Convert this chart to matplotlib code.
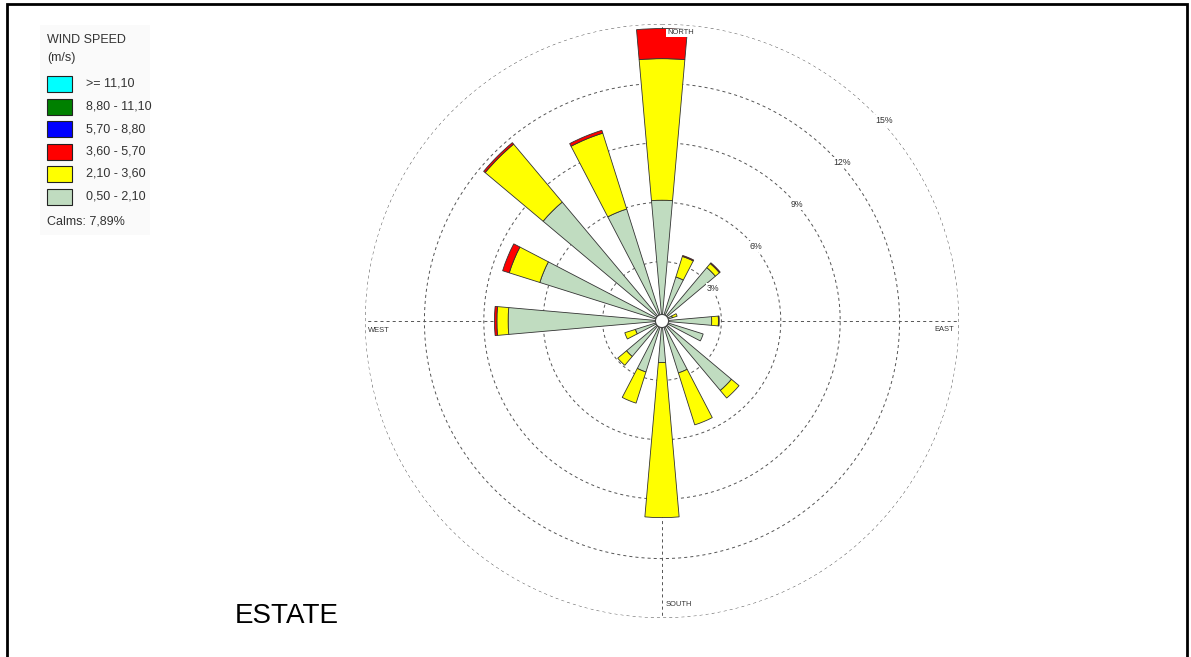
import numpy as np
import matplotlib
matplotlib.use("Agg")
import matplotlib.pyplot as plt
from matplotlib.patches import Rectangle

plt.rcParams["font.family"] = ["Liberation Sans", "DejaVu Sans"]
plt.rcParams["lines.scale_dashes"] = False

# 16 compass sectors, clockwise from north
directions = ["N", "NNE", "NE", "ENE", "E", "ESE", "SE", "SSE",
              "S", "SSW", "SW", "WSW", "W", "WNW", "NW", "NNW"]
angles_deg = [0.0, 22.5, 45.0, 67.5, 90.0, 112.5, 135.0, 157.5,
              180.0, 202.5, 225.0, 247.5, 270.0, 292.5, 315.0, 337.5]

# frequency (%) per speed class and sector
freq_050_210 = [6.10, 2.33, 3.52, 0.55, 2.51, 2.18, 4.58, 2.75,
                2.10, 2.70, 2.34, 1.41, 7.77, 6.47, 7.84, 5.93]
freq_210_360 = [7.15, 1.09, 0.27, 0.25, 0.34, 0.00, 0.50, 2.75,
                7.83, 1.65, 0.58, 0.56, 0.57, 1.62, 3.82, 4.02]
freq_360_570 = [1.52, 0.05, 0.05, 0.00, 0.04, 0.00, 0.00, 0.00,
                0.00, 0.00, 0.00, 0.00, 0.12, 0.35, 0.10, 0.15]
freq_570_880 = [0.0] * 16
freq_880_1110 = [0.0] * 16
freq_ge_1110 = [0.0] * 16

speed_labels = [">= 11,10", "8,80 - 11,10", "5,70 - 8,80",
                "3,60 - 5,70", "2,10 - 3,60", "0,50 - 2,10"]
speed_colors = ["#00ffff", "#008000", "#0000ff",
                "#ff0000", "#ffff00", "#c0dcc0"]
calms_pct = 7.89
ring_levels = [3, 6, 9, 12, 15]
compass_names = ["NORTH", "EAST", "SOUTH", "WEST"]
title_text = "ESTATE"

W, H = 1191, 657
fig = plt.figure(figsize=(W / 100, H / 100), dpi=100)
fig.patch.set_facecolor("white")


def fx(x):
    return x / W


def fy(y):
    return 1 - y / H


# polar axes centred on the rose
cx, cy, R = 662, 321, 297
ax = fig.add_axes([fx(cx - R), fy(cy + R), 2 * R / W, 2 * R / H],
                  projection="polar")
ax.set_theta_zero_location("N")
ax.set_theta_direction(-1)
ax.set_ylim(0, max(ring_levels))
ax.axis("off")

grid_style = dict(color="#555555", lw=0.7, ls=(0, (2.2, 2.2)), zorder=1)
t = np.linspace(0, 2 * np.pi, 721)
for lvl in ring_levels:
    ax.plot(t, np.full_like(t, lvl), **grid_style)
for a in (0, 90, 180, 270):
    ax.plot([np.deg2rad(a)] * 2, [ring_levels[0], ring_levels[-1]], **grid_style)

# stacked sectors, slowest class innermost
theta = np.deg2rad(angles_deg)
stack = [freq_050_210, freq_210_360, freq_360_570,
         freq_570_880, freq_880_1110, freq_ge_1110]
stack_colors = speed_colors[::-1]
bottom = np.zeros(16)
for vals, col in zip(stack, stack_colors):
    v = np.asarray(vals, dtype=float)
    m = v > 0
    if m.any():
        ax.bar(theta[m], v[m], width=np.deg2rad(10.0), bottom=bottom[m],
               color=col, edgecolor="#333333", linewidth=0.6, zorder=3,
               clip_on=False)
    bottom += v

# calm circle
ax.fill(t, np.full_like(t, 0.33), facecolor="white", edgecolor="#444444",
        linewidth=0.8, zorder=4)

box = dict(boxstyle="square,pad=0.12", fc="white", ec="none")
for lvl in ring_levels:
    ax.annotate(f"{lvl}%", xy=(np.deg2rad(45), lvl), xytext=(3, -5),
                textcoords="offset pixels", ha="left", va="top",
                fontsize=6.3, color="#333333", bbox=box, zorder=5)

rmax = ring_levels[-1]
compass_pos = {
    "NORTH": ((0.0, rmax), (5, -9), "left"),
    "EAST": ((np.pi / 2, rmax), (-5, -9), "right"),
    "SOUTH": ((np.pi, rmax), (4, 14), "left"),
    "WEST": ((3 * np.pi / 2, rmax), (3, -9), "left"),
}
for name in compass_names:
    xy, off, ha = compass_pos[name]
    ax.annotate(name, xy=xy, xytext=off, textcoords="offset pixels",
                ha=ha, va="center", fontsize=5.4, color="#333333",
                bbox=box, zorder=6)

# legend panel
fig.add_artist(Rectangle((fx(40), fy(235)), 110 / W, 210 / H,
                         transform=fig.transFigure, facecolor="#fafafa",
                         edgecolor="none", zorder=0))
fig.text(fx(47), fy(40), "WIND SPEED", fontsize=9, color="#333333",
         ha="left", va="center")
fig.text(fx(47), fy(58), "(m/s)", fontsize=9, color="#333333",
         ha="left", va="center")
for i, (lab, col) in enumerate(zip(speed_labels, speed_colors)):
    top = 76 + i * 22.5
    fig.add_artist(Rectangle((fx(47), fy(top + 16)), 25 / W, 16 / H,
                             transform=fig.transFigure, facecolor=col,
                             edgecolor="#222222", linewidth=0.8))
    fig.text(fx(86), fy(top + 8), lab, fontsize=9, color="#333333",
             ha="left", va="center")
fig.text(fx(47), fy(221), "Calms: " + f"{calms_pct:.2f}".replace(".", ",") + "%",
         fontsize=9, color="#333333", ha="left", va="center")

fig.text(fx(235), fy(616), title_text, fontsize=20, color="black",
         ha="left", va="center")

# outer frame
fig.add_artist(Rectangle((fx(7), -0.02), (1187 - 7) / W, 1.02 - 4 / H,
                         transform=fig.transFigure, fill=False,
                         edgecolor="black", linewidth=2))

fig.savefig("out.png", dpi=100, facecolor="white")
